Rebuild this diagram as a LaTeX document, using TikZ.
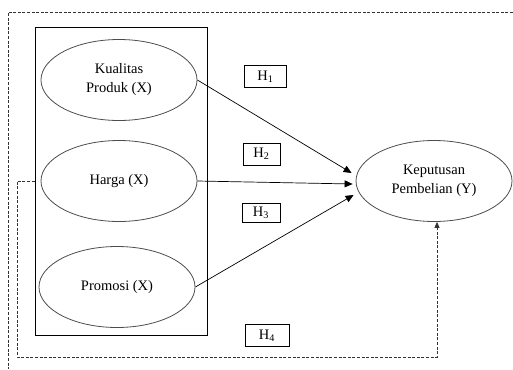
\documentclass[tikz,border=0pt]{standalone}
\usepackage{fontspec}
\setmainfont{Liberation Serif}
\usetikzlibrary{shapes.geometric, arrows.meta, positioning, calc}

\begin{document}
\begin{tikzpicture}[x=1pt, y=-1pt, on grid, auto,
        font=\fontsize{14.5}{19}\selectfont,
        var/.style={ellipse, draw=black!70, line width=0.8pt, minimum width=156pt,
                minimum height=81pt, inner sep=0pt, align=center},
        hbox/.style={draw, line width=0.7pt, minimum width=42pt, minimum height=22pt, inner sep=0pt},
        dsh/.style={draw=black!80, line width=0.8pt, dash pattern=on 3pt off 1.6pt}]
        \useasboundingbox (0,0) rectangle (513,369);
        \node[var] (kual) at (119,80) {Kualitas\\Produk (X)};
        \node[var, below=101pt of kual] (harga) {Harga (X)};
        \node[var, below=106pt of harga, xshift=-2pt] (promosi) {Promosi (X)};
        \node[var, right=315pt of harga] (kepu) {Keputusan\\Pembelian (Y)};
        \node[draw, line width=0.8pt, minimum width=172pt, minimum height=308pt] (grp) at (121,181) {};
        % hypothesis labels
        \node[hbox] (h1) at (265.5,76.5) {H\textsubscript{1}};
        \node[hbox, minimum width=37pt] (h2) at (261.5,154) {H\textsubscript{2}};
        \node[hbox, minimum width=38pt, minimum height=19pt] (h3) at (261,212.5) {H\textsubscript{3}};
        \node[hbox, minimum width=44pt] (h4) at (267,335.5) {H\textsubscript{4}};
        \path[-{Triangle[length=8pt,width=7pt]}, line width=0.7pt]
                (kual.east) edge ($(kepu.west)+(-4,-8)$)
                (harga.east) edge ($(kepu.west)+(-3,3)$)
                (promosi.east) edge ($(kepu.west)+(-2,14)$);
        % simultaneous effect
        \coordinate (low) at (17,357);
        \draw[dsh, -{Triangle[length=6pt,width=5pt]}] (grp.west) -| (low) -| ($(kepu.south)+(3,0)$);
        \draw[dsh] (513,12) -- (8,12) -- (8,369);
\end{tikzpicture}
\end{document}
